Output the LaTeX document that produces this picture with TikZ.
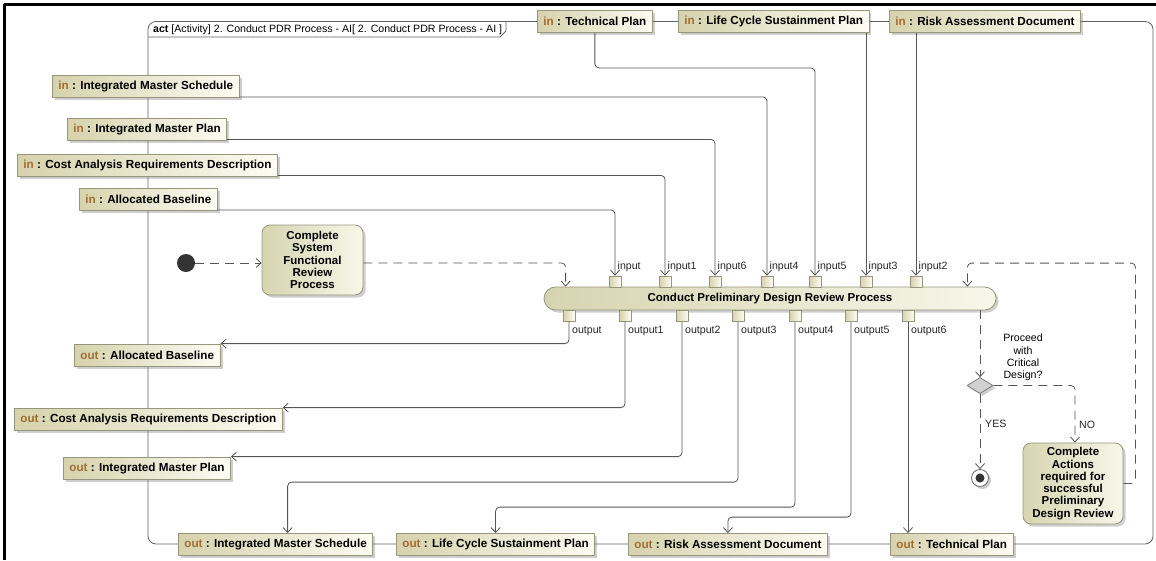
\documentclass[tikz,border=0pt]{standalone}
\usepackage{fontspec}
\setmainfont{Liberation Sans}
\usetikzlibrary{arrows.meta,shapes.geometric,shadows,calc}
\definecolor{pinL}{RGB}{214,210,172}
\definecolor{pinR}{RGB}{252,252,243}
\definecolor{pinB}{RGB}{150,150,125}
\definecolor{inbrown}{RGB}{160,110,50}
\definecolor{lineC}{RGB}{85,85,85}
\definecolor{actL}{RGB}{214,212,176}
\definecolor{actR}{RGB}{247,247,234}
\newcommand{\dgPin}{\fontsize{11.7}{13}\selectfont\bfseries}
\newcommand{\dgAct}{\fontsize{11.5}{12.3}\selectfont\bfseries}
\newcommand{\dgSmall}{\fontsize{10.6}{12.3}\selectfont}
\tikzset{
  shadowed/.style={drop shadow={shadow xshift=2.5pt,shadow yshift=-2.5pt,opacity=0.35,fill=black!55}},
  pinbox/.style={draw=pinB, line width=0.8pt, left color=pinL, right color=pinR,
    minimum height=22pt, inner xsep=6pt, inner ysep=0pt, anchor=west, font=\dgPin, shadowed},
  sq/.style={draw=pinB, line width=0.7pt, left color=pinL, right color=pinR,
    minimum width=12pt, minimum height=11.5pt, inner sep=0pt},
  actbox/.style={draw=pinB, line width=0.8pt, left color=actL, right color=actR,
    rounded corners=8pt, align=center, font=\dgAct, inner sep=0pt, shadowed},
  conn/.style={draw=lineC, line width=0.8pt, rounded corners=4pt,
    -{Straight Barb[length=5pt,width=9pt]}},
  connd/.style={conn, dash pattern=on 9pt off 6pt},
  lbl/.style={font=\dgSmall, anchor=west, inner sep=0pt, text=black!85},
  frm/.style={draw=black!62, line width=0.8pt}
}
\begin{document}
\begin{tikzpicture}[x=1pt, y=-1pt, line join=round]
\useasboundingbox (0,0) rectangle (1156,560);
% outer black border
\draw[line width=3pt] (4.5,560) -- (4.5,4) -- (1156,4);
% activity frame
\draw[frm, rounded corners=8pt] (148,300) -- (148,21.5) -- (1153,21.5) -- (1153,544) -- (148,544) -- cycle;
\draw[frm] (148,37) -- (500,37) -- (506,31) -- (506,21.5);
\node[anchor=west, font=\dgSmall, inner sep=0pt] (hdr) at (153,29.5)
  {\textbf{act} [Activity] 2. Conduct PDR Process - AI[ 2. Conduct PDR Process - AI ]};

% parameter pins
\node[pinbox] (inIMS) at (52,86.5) {\textcolor{inbrown}{in} : Integrated Master Schedule};
\node[pinbox] (inIMP) at (67,129) {\textcolor{inbrown}{in} : Integrated Master Plan};
\node[pinbox] (inCARD) at (17,165) {\textcolor{inbrown}{in} : Cost Analysis Requirements Description};
\node[pinbox] (inAB) at (79,199.5) {\textcolor{inbrown}{in} : Allocated Baseline};
\node[pinbox] (inTP) at (537,21.5) {\textcolor{inbrown}{in} : Technical Plan};
\node[pinbox] (inLCSP) at (678,21.5) {\textcolor{inbrown}{in} : Life Cycle Sustainment Plan};
\node[pinbox] (inRAD) at (889,21.5) {\textcolor{inbrown}{in} : Risk Assessment Document};
\node[pinbox] (outAB) at (74,355) {\textcolor{inbrown}{out} : Allocated Baseline};
\node[pinbox] (outCARD) at (14,419) {\textcolor{inbrown}{out} : Cost Analysis Requirements Description};
\node[pinbox] (outIMP) at (63,468) {\textcolor{inbrown}{out} : Integrated Master Plan};
\node[pinbox] (outIMS) at (178,544.5) {\textcolor{inbrown}{out} : Integrated Master Schedule};
\node[pinbox] (outLCSP) at (396,544.5) {\textcolor{inbrown}{out} : Life Cycle Sustainment Plan};
\node[pinbox] (outRAD) at (628,544.5) {\textcolor{inbrown}{out} : Risk Assessment Document};
\node[pinbox] (outTP) at (890,544.5) {\textcolor{inbrown}{out} : Technical Plan};

% actions
\node[actbox, rounded corners=11.5pt, minimum width=452pt, minimum height=23pt] (act) at (770,298.5)
  {Conduct Preliminary Design Review Process};
\node[actbox, minimum width=101pt, minimum height=70pt] (csfrp) at (312.5,260)
  {Complete\\System\\Functional\\Review\\Process};
\node[actbox, minimum width=100pt, minimum height=81pt] (ca) at (1073,483.5)
  {Complete\\Actions\\required for\\successful\\Preliminary\\Design Review};

% control nodes
\node[circle, fill=black!80, minimum size=18pt, inner sep=0pt] (init) at (186,263) {};
\node[diamond, draw=black!55, fill=black!18, line width=0.7pt, minimum width=26pt, minimum height=16pt, inner sep=0pt, shadowed] (dec) at (980,385.5) {};
\node[circle, draw=black!60, fill=white, line width=0.8pt, minimum size=17pt, inner sep=0pt, shadowed] (fin) at (980,478) {};
\fill[black!80] (fin.center) circle (4.5pt);

% input / output pins on the action
\foreach \x/\lab [count=\i from 0] in {615/input,665/input1,715/input6,767/input4,815/input5,866/input3,916/input2} {
  \node[sq] (pi\i) at (\x,281.75) {};
  \node[lbl] (lpi\i) at (\x+2.5,266.5) {\lab};
}
\foreach \x/\lab [count=\i from 0] in {569/output,625/output1,682/output2,738/output3,795/output4,851/output5,908/output6} {
  \node[sq] (po\i) at (\x,316) {};
  \node[lbl] (lpo\i) at (\x+3,331) {\lab};
}

% object flows in
\draw[conn] ([yshift=1pt]inAB.south east) -| (pi0.north);
\draw[conn] ([yshift=1pt]inCARD.south east) -| (pi1.north);
\draw[conn] ([yshift=1pt]inIMP.south east) -| (pi2.north);
\draw[conn] ([yshift=1pt]inIMS.south east) -| (pi3.north);
\draw[conn] (inTP.south) -- ++(0,35) -| (pi4.north);
\draw[conn] (pi5 |- inLCSP.south) -- (pi5.north);
\draw[conn] (pi6 |- inRAD.south) -- (pi6.north);

% object flows out
\draw[conn] (po0.south) |- (outAB.north east);
\draw[conn] (po1.south) |- (outCARD.north east);
\draw[conn] (po2.south) |- (outIMP.north east);
\draw[conn] (po3.south) |- ([xshift=12pt,yshift=51pt]outIMS.north) -- ([xshift=12pt]outIMS.north);
\draw[conn] (po4.south) |- ([yshift=26pt]outLCSP.north) -- (outLCSP.north);
\draw[conn] (po5.south) |- ([yshift=16pt]outRAD.north) -- (outRAD.north);
\draw[conn] (po6.south) -- (po6.south |- outTP.north);

% control flows
\draw[connd] (init.east) -- (init.east -| csfrp.west);
\draw[connd] (csfrp.east |- init.east) -| ([xshift=22pt]act.north west);
\draw[connd] (act.south -| dec.north) -- (dec.north);
\draw[connd] (dec.east) -| ([xshift=2pt]ca.north);
\draw[connd] (dec.south) -- (fin.north);
\draw[connd] (ca.east) -- ++(12,0) |- ([xshift=-29pt,yshift=23.5pt]act.north east) -- ([xshift=-29pt]act.north east);

% guards / labels
\node[font=\dgSmall, align=center, inner sep=0pt] (q) at (1023,357.5) {Proceed\\with\\Critical\\Design?};
\node[lbl] (yes) at (985,424) {YES};
\node[lbl] (no) at (1079,425) {NO};
\end{tikzpicture}
\end{document}
